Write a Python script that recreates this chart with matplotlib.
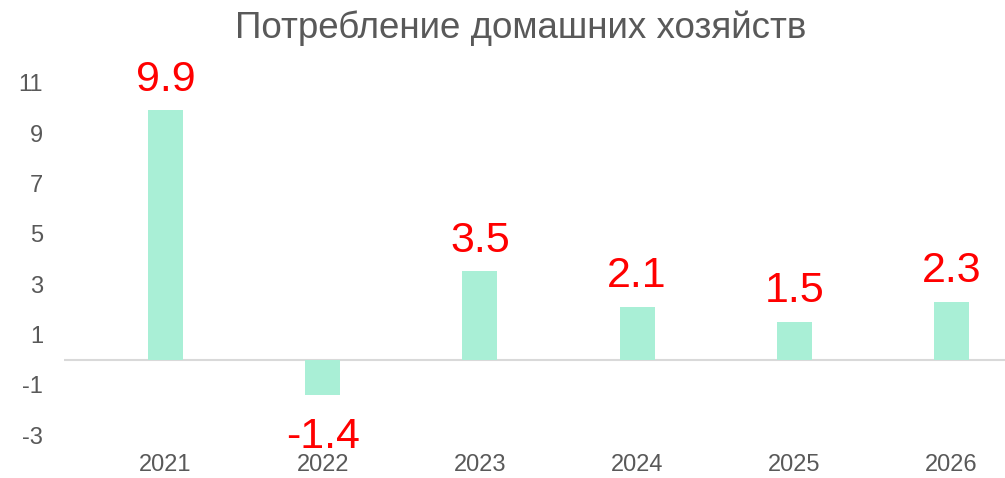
import matplotlib
matplotlib.use("Agg")
import matplotlib.pyplot as plt

years = ["2021", "2022", "2023", "2024", "2025", "2026"]
values = [9.9, -1.4, 3.5, 2.1, 1.5, 2.3]
yticks = [-3, -1, 1, 3, 5, 7, 9, 11]

plt.rcParams['font.family'] = ['Liberation Sans', 'DejaVu Sans']

fig = plt.figure(figsize=(10.05, 4.78), dpi=100)
# axes placed in pixels: x 64..1005, y(-3)=435, y(11)=82.7
ax = fig.add_axes([64 / 1005, (478 - 435) / 478, (1005 - 64) / 1005, (435 - 82.7) / 478])

x = list(range(len(years)))
ax.bar(x, values, width=0.223, color="#A9EFD6", zorder=2)

for xi, v in zip(x, values):
    if v >= 0:
        ax.text(xi, v + 0.78, f"{v:.1f}", ha="center", va="baseline", color="#FF0000",
                fontsize=31, clip_on=False)
    else:
        ax.text(xi, v - 2.1, f"{v:.1f}", ha="center", va="baseline", color="#FF0000",
                fontsize=31, clip_on=False)

ax.set_xlim(-0.645, 5.34)
ax.set_ylim(-3, 11)
ax.set_yticks(yticks)
ax.set_yticklabels([str(t) for t in yticks])
ax.set_xticks(x)
ax.set_xticklabels(years)
ax.tick_params(axis="y", length=0, labelsize=17, labelcolor="#595959", pad=15)
ax.tick_params(axis="x", length=0, labelsize=17, labelcolor="#595959", pad=14)

for s in ["top", "right", "left", "bottom"]:
    ax.spines[s].set_visible(False)
ax.axhline(0, color="#D9D9D9", linewidth=1.5, zorder=1)

fig.text(0.518, 0.94, "Потребление домашних хозяйств", ha="center", va="center",
         fontsize=26.5, color="#595959")

fig.savefig("out.png", dpi=100)
